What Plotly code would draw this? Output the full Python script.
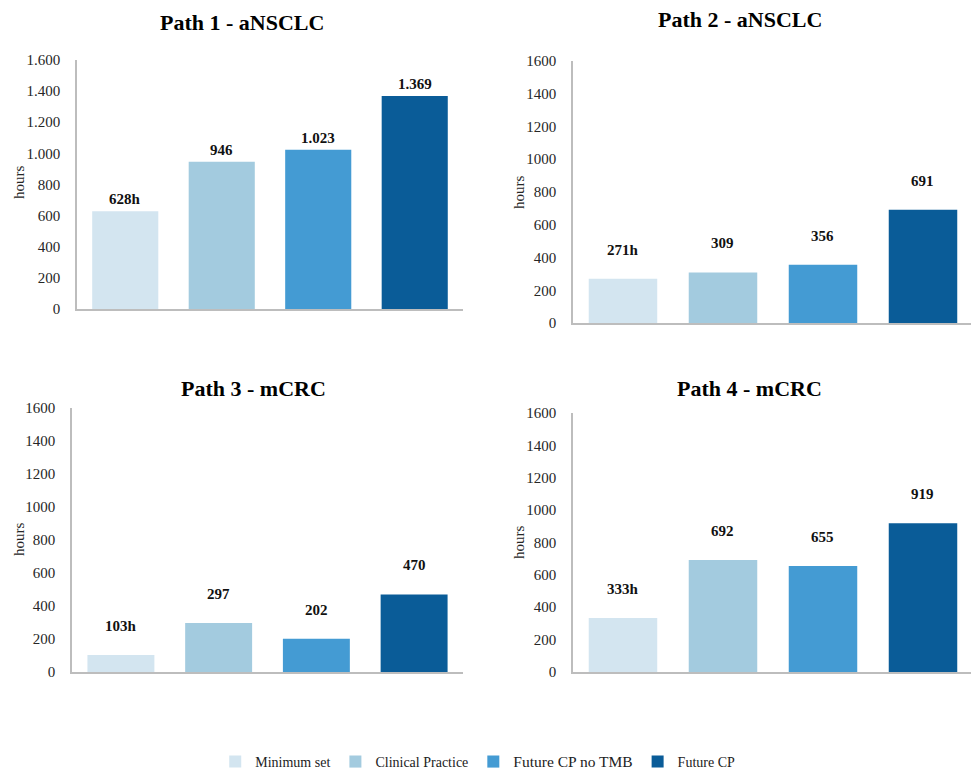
import plotly.graph_objects as go

# Series (one colour each) and the four care paths
series = ["Minimum set", "Clinical Practice", "Future CP no TMB", "Future CP"]
colors = ["#D3E5F0", "#A3CBDF", "#449BD3", "#0A5C98"]
titles = ["Path 1 - aNSCLC", "Path 2 - aNSCLC", "Path 3 - mCRC", "Path 4 - mCRC"]
y_title = "hours"

path1 = [628, 946, 1023, 1369]
path2 = [271, 309, 356, 691]
path3 = [103, 297, 202, 470]
path4 = [333, 692, 655, 919]
paths = [path1, path2, path3, path4]

y_ticks = [0, 200, 400, 600, 800, 1000, 1200, 1400, 1600]

SERIF = "Liberation Serif"

# panel geometry: x domain, y domain, x range upper bound, title position,
# y-title position, thousands-separator flag, label lift above bars (px)
panels = [
    dict(xd=[0.0793, 0.4768], yd=[0.5987, 0.9221], xr=3.5, tx=0.249, ty=0.971,
         hx=0.0196, hy=0.7623, sep=True, lift=12),
    dict(xd=[0.5901, 1.0], yd=[0.5805, 0.9208], xr=3.48, tx=0.762, ty=0.975,
         hx=0.5345, hy=0.7506, sep=False, lift=29),
    dict(xd=[0.0742, 0.4768], yd=[0.1273, 0.4701], xr=3.5, tx=0.261, ty=0.495,
         hx=0.0196, hy=0.2987, sep=False, lift=29),
    dict(xd=[0.5901, 1.0], yd=[0.1273, 0.4636], xr=3.48, tx=0.772, ty=0.495,
         hx=0.5345, hy=0.2961, sep=False, lift=29),
]


def fmt(v, sep):
    return f"{v:,}".replace(",", ".") if sep else str(v)


def legend_name(name):
    # the third entry is set a touch larger in the legend
    if name == "Future CP no TMB":
        return f"<span style='font-size:15.5px'>{name}</span>"
    return name


fig = go.Figure()
annotations = []

for p, (vals, cfg) in enumerate(zip(paths, panels)):
    ax = "" if p == 0 else str(p + 1)
    for i, (name, col, v) in enumerate(zip(series, colors, vals)):
        fig.add_trace(go.Bar(
            x=[name], y=[v], name=legend_name(name),
            marker=dict(color=col, line=dict(width=0)),
            width=0.685,
            xaxis="x" + ax, yaxis="y" + ax,
            showlegend=(p == 0), legendgroup=name,
            hovertemplate=f"{name}: %{{y}}<extra></extra>",
        ))
        label = fmt(v, cfg["sep"]) + ("h" if i == 0 else "")
        annotations.append(dict(
            x=name, y=v, xref="x" + ax, yref="y" + ax,
            text=label, showarrow=False, yanchor="middle",
            yshift=cfg["lift"],
            font=dict(family=SERIF, size=15, color="#111111", weight="bold"),
        ))
    annotations.append(dict(
        x=cfg["tx"], y=cfg["ty"], xref="paper", yref="paper",
        text=titles[p], showarrow=False, xanchor="center", yanchor="middle",
        font=dict(family=SERIF, size=22, color="#000000", weight="bold"),
    ))
    annotations.append(dict(
        x=cfg["hx"], y=cfg["hy"], xref="paper", yref="paper",
        text=y_title, showarrow=False, textangle=-90,
        xanchor="center", yanchor="middle",
        font=dict(family=SERIF, size=15, color="#262626"),
    ))

    xkey = "xaxis" + ax
    ykey = "yaxis" + ax
    fig.layout[xkey] = dict(
        domain=cfg["xd"], anchor="y" + ax, type="category",
        categoryorder="array", categoryarray=series,
        range=[-0.5, cfg["xr"]], showticklabels=False, ticks="",
        showgrid=False, zeroline=False,
        showline=True, linecolor="#BDBDBD", linewidth=1.5,
    )
    fig.layout[ykey] = dict(
        domain=cfg["yd"], anchor="x" + ax, range=[0, 1600],
        tickvals=y_ticks, separatethousands=cfg["sep"],
        showgrid=False, zeroline=False, ticks="",
        showline=True, linecolor="#BDBDBD", linewidth=1.5,
        ticklabelstandoff=12,
        tickfont=dict(family=SERIF, size=15, color="#262626"),
    )

fig.update_layout(
    width=971, height=770,
    margin=dict(l=0, r=0, t=0, b=0, autoexpand=False),
    paper_bgcolor="white", plot_bgcolor="white",
    barmode="overlay",
    separators=",.",
    annotations=annotations,
    font=dict(family=SERIF),
    showlegend=True,
    legend=dict(
        orientation="h", x=0.492, xanchor="center", y=0.0104, yanchor="middle",
        font=dict(family=SERIF, size=14, color="#222222"),
        itemclick=False, itemdoubleclick=False,
    ),
)

fig.write_html("out.html")
